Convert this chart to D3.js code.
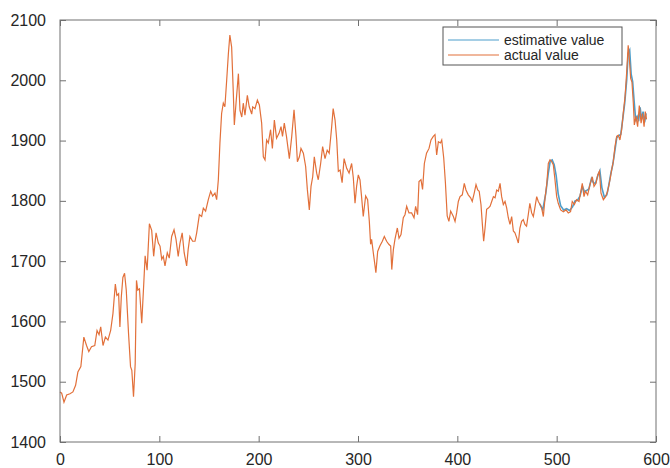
<!DOCTYPE html>
<html lang="en">
    <head>
        <meta charset="utf-8">
        <title>estimative vs actual</title>
        <script type="text/javascript" src="https://cdn.jsdelivr.net/npm/d3@7"></script>
        <style type="text/css">
            body { margin: 0; background: #fff; }
            text { font-family: "Liberation Sans", Arial, sans-serif; }
        </style>
    </head>
    <body>
        <script type="text/javascript">
            var w = 670;
            var h = 468;

            //Data: x positions and values
            var actualX = [0, 1.7, 4, 6.7, 10, 13, 15.7, 18, 21, 24, 26.7, 29, 31.7, 35, 37.3, 39.3, 41, 43.3, 45.7, 48.3,
                51, 53.3, 55.7, 57.3, 59, 60.3, 61.7, 63.3, 65, 66.7, 69, 71, 72.3, 74, 75.7, 77, 78.3, 80, 82.3, 84.3,
                85.7, 87.7, 90, 92.3, 94.3, 96.7, 99, 100.7, 102.4, 104, 105.7, 108, 110, 112.4, 114.8, 116.8, 119, 120.8, 123, 125,
                127.5, 129, 130.8, 133.5, 135.9, 137.6, 140.3, 142.6, 144.3, 146.6, 149.3, 151.7, 153.7, 156, 157.7, 159.4, 161, 162.7, 164.4, 166,
                167.8, 169.5, 171, 172.8, 174.5, 175.5, 177.2, 179.6, 181.2, 183, 184.5, 186.2, 188.6, 190.5, 193, 194, 196.3, 198.7, 200.7, 203,
                204.7, 206.4, 208, 209.7, 212, 213.8, 215.8, 218, 220.5, 222.5, 224, 225.8, 228, 230.9, 233.3, 235.6, 237.6, 239, 241, 242.6,
                245, 247.3, 249, 251, 252.7, 254.4, 256, 258.4, 260, 262.4, 264.4, 266.8, 269, 271, 273.5, 275, 276.9, 278.6, 280.2, 282,
                284, 286, 288.6, 291, 293.6, 295.3, 297, 298.6, 300.3, 302, 303.7, 305.3, 307.7, 309.7, 311.4, 312.7, 313.7, 315.4, 317, 318,
                319.8, 322, 324.5, 326.5, 328.8, 331, 332.9, 334, 335.6, 337.2, 339.6, 341.3, 343.3, 345.6, 347.3, 349, 351.3, 354, 356.4, 358,
                360, 361.4, 363.4, 365, 366.8, 369, 371.5, 373.5, 375.8, 377.5, 379.2, 380.9, 383, 384.3, 386.3, 388, 389.8, 391.5, 393.3, 396,
                397.7, 399.3, 401, 402.7, 405, 407, 408.7, 411, 413.4, 415, 417, 418.8, 420.5, 422, 423.8, 425.2, 426.5, 427.9, 429.5, 431.2,
                433, 434.6, 436.3, 438, 439.6, 441.3, 443, 444.6, 446.3, 448, 449.7, 451.3, 453, 454.7, 456.4, 458, 459.7, 461.4, 463, 464.7,
                466.4, 468, 469.7, 471.4, 473, 474.8, 476.5, 478, 479.9, 481.5, 483.2, 484.9, 486.6, 488.3, 490, 491.6, 493.3, 495, 496.6, 498.3,
                500, 501.6, 504, 506.7, 509.4, 511.7, 514, 515.7, 517.8, 520, 522.5, 524, 525.8, 527.5, 529, 531.2, 533.5, 535.9, 537.6, 539.6,
                541.3, 543, 544.6, 547, 549.3, 551.3, 553.7, 555.3, 557, 558.7, 560.4, 562, 563.7, 565.4, 567, 568.8, 570.4, 572, 573, 574.5,
                575.8, 577.2, 578.2, 579.8, 581.5, 583.2, 585, 586.5, 588, 589.2, 590.5];
            var actualY = [1483, 1481, 1466, 1478, 1480, 1483, 1494, 1516, 1525, 1574, 1560, 1550, 1558, 1560, 1585, 1578, 1591, 1560, 1574, 1569,
                1585, 1613, 1662, 1643, 1646, 1591, 1640, 1673, 1680, 1652, 1580, 1525, 1519, 1475, 1530, 1668, 1652, 1654, 1597, 1662,
                1709, 1685, 1762, 1751, 1708, 1747, 1730, 1725, 1703, 1708, 1692, 1714, 1705, 1741, 1752, 1736, 1708, 1730, 1747, 1714,
                1692, 1719, 1741, 1733, 1733, 1747, 1777, 1774, 1788, 1783, 1802, 1816, 1808, 1813, 1802, 1835, 1896, 1945, 1962, 1956,
                2000, 2044, 2075, 2055, 1978, 1926, 1962, 2011, 1950, 1939, 1962, 1942, 1975, 1956, 1944, 1956, 1953, 1967, 1959, 1929,
                1873, 1868, 1901, 1896, 1918, 1887, 1934, 1904, 1912, 1923, 1907, 1929, 1907, 1870, 1907, 1951, 1907, 1865, 1873, 1887,
                1879, 1857, 1819, 1785, 1824, 1840, 1873, 1846, 1835, 1862, 1890, 1870, 1884, 1879, 1923, 1953, 1934, 1901, 1849, 1851,
                1830, 1870, 1854, 1846, 1862, 1838, 1796, 1824, 1843, 1835, 1805, 1774, 1808, 1802, 1766, 1728, 1736, 1714, 1694, 1681,
                1716, 1725, 1733, 1741, 1733, 1728, 1725, 1686, 1719, 1736, 1755, 1738, 1744, 1772, 1777, 1791, 1780, 1780, 1772, 1791,
                1777, 1832, 1835, 1819, 1862, 1879, 1887, 1901, 1907, 1910, 1876, 1898, 1896, 1901, 1871, 1830, 1775, 1766, 1783, 1774,
                1766, 1780, 1799, 1807, 1810, 1829, 1818, 1810, 1805, 1799, 1813, 1827, 1818, 1816, 1794, 1761, 1733, 1755, 1786, 1788,
                1791, 1799, 1807, 1805, 1818, 1816, 1829, 1807, 1794, 1799, 1788, 1772, 1761, 1774, 1750, 1747, 1739, 1730, 1755, 1766,
                1769, 1761, 1758, 1777, 1796, 1780, 1774, 1788, 1807, 1799, 1794, 1788, 1774, 1805, 1827, 1862, 1868, 1865, 1860, 1835,
                1807, 1796, 1785, 1782, 1785, 1780, 1782, 1799, 1794, 1802, 1799, 1813, 1829, 1807, 1816, 1810, 1827, 1840, 1824, 1829,
                1843, 1849, 1813, 1802, 1807, 1816, 1835, 1851, 1865, 1890, 1907, 1909, 1901, 1918, 1945, 1972, 2011, 2058, 2039, 2003,
                1997, 1961, 1926, 1940, 1923, 1958, 1929, 1945, 1923, 1948, 1935];

            var estX = [483, 486, 489, 491.5, 493.5, 495.5, 497.5, 499.5, 501.5, 504, 507, 510, 513, 516, 518.5, 521, 523.5, 526, 528, 530,
                532.5, 535, 537, 539, 541.5, 543.5, 545.5, 548, 550.5, 552.5, 554.5, 556.5, 558.5, 560.5, 562.5, 564.5, 566.5, 568.5, 570.5, 572,
                573.5, 575, 576.5, 578, 579.5, 581, 582.5, 584, 585.5, 587, 588.5, 590];
            var estY = [1795, 1785, 1812, 1845, 1866, 1868, 1860, 1842, 1812, 1792, 1785, 1787, 1784, 1790, 1800, 1801, 1808, 1824, 1815, 1817,
                1820, 1837, 1830, 1829, 1842, 1850, 1822, 1806, 1810, 1826, 1845, 1860, 1882, 1905, 1908, 1910, 1935, 1962, 2000, 2045,
                2050, 2010, 1998, 1965, 1935, 1940, 1932, 1955, 1935, 1948, 1930, 1945];

            var xTicks = [0, 100, 200, 300, 400, 500, 600];
            var yTicks = [1400, 1500, 1600, 1700, 1800, 1900, 2000, 2100];
            var seriesNames = ["estimative value", "actual value"];
            var seriesColors = ["#4d9ecb", "#e2703a"];

            // plot box (window.top is read-only, so no "top" here)
            var mLeft = 60, mRight = 656, mTop = 20, mBottom = 442;

            var xScale = d3.scaleLinear().domain([0, 600]).range([mLeft, mRight]);
            var yScale = d3.scaleLinear().domain([1400, 2100]).range([mBottom, mTop]);

            var svg = d3.select("body")
                .append("svg")
                .attr("width", w)
                .attr("height", h);

            var line = d3.line()
                .x(function(d) { return xScale(d[0]); })
                .y(function(d) { return yScale(d[1]); });

            var est = estX.map(function(x, i) { return [x, estY[i]]; });
            var act = actualX.map(function(x, i) { return [x, actualY[i]]; });

            svg.append("path")
                .datum(est)
                .attr("d", line)
                .attr("fill", "none")
                .attr("stroke", seriesColors[0])
                .attr("stroke-width", 1.6);

            svg.append("path")
                .datum(act)
                .attr("d", line)
                .attr("fill", "none")
                .attr("stroke", seriesColors[1])
                .attr("stroke-width", 1.2);

            // axes, MATLAB style box with inward ticks
            var axColor = "#707070";
            var tl = 6;
            var fmt = d3.format("d");

            svg.append("g")
                .attr("transform", "translate(0," + mBottom + ")")
                .call(d3.axisBottom(xScale).tickValues(xTicks).tickFormat(fmt).tickSizeInner(-tl).tickSizeOuter(0).tickPadding(12))
                .call(function(g) {
                    g.select(".domain").remove();
                    g.selectAll("line").attr("stroke", axColor);
                    g.selectAll("text").attr("font-size", "16px").attr("fill", "#262626");
                });

            svg.append("g")
                .attr("transform", "translate(0," + mTop + ")")
                .call(d3.axisTop(xScale).tickValues(xTicks).tickSizeInner(-tl).tickSizeOuter(0))
                .call(function(g) {
                    g.select(".domain").remove();
                    g.selectAll("line").attr("stroke", axColor);
                    g.selectAll("text").remove();
                });

            svg.append("g")
                .attr("transform", "translate(" + mLeft + ",0)")
                .call(d3.axisLeft(yScale).tickValues(yTicks).tickFormat(fmt).tickSizeInner(-tl).tickSizeOuter(0).tickPadding(14))
                .call(function(g) {
                    g.select(".domain").remove();
                    g.selectAll("line").attr("stroke", axColor);
                    g.selectAll("text").attr("font-size", "16px").attr("fill", "#262626");
                });

            svg.append("g")
                .attr("transform", "translate(" + mRight + ",0)")
                .call(d3.axisRight(yScale).tickValues(yTicks).tickSizeInner(-tl).tickSizeOuter(0))
                .call(function(g) {
                    g.select(".domain").remove();
                    g.selectAll("line").attr("stroke", axColor);
                    g.selectAll("text").remove();
                });

            svg.append("rect")
                .attr("x", mLeft)
                .attr("y", mTop)
                .attr("width", mRight - mLeft)
                .attr("height", mBottom - mTop)
                .attr("fill", "none")
                .attr("stroke", axColor)
                .attr("stroke-width", 1);

            // legend
            var legend = svg.append("g").attr("transform", "translate(443,27)");
            legend.append("rect")
                .attr("width", 179)
                .attr("height", 38)
                .attr("fill", "#fff")
                .attr("stroke", "#555")
                .attr("stroke-width", 1);

            var items = legend.selectAll("g.item")
                .data(seriesNames)
                .enter()
                .append("g")
                .attr("class", "item")
                .attr("transform", function(d, i) { return "translate(0," + (13 + i * 15) + ")"; });

            items.append("line")
                .attr("x1", 5)
                .attr("x2", 56)
                .attr("stroke", function(d, i) { return seriesColors[i]; })
                .attr("stroke-width", 1.2);

            items.append("text")
                .attr("x", 61)
                .attr("dy", "0.35em")
                .attr("font-size", "14px")
                .attr("fill", "#262626")
                .text(function(d) { return d; });
        </script>
    </body>
</html>
